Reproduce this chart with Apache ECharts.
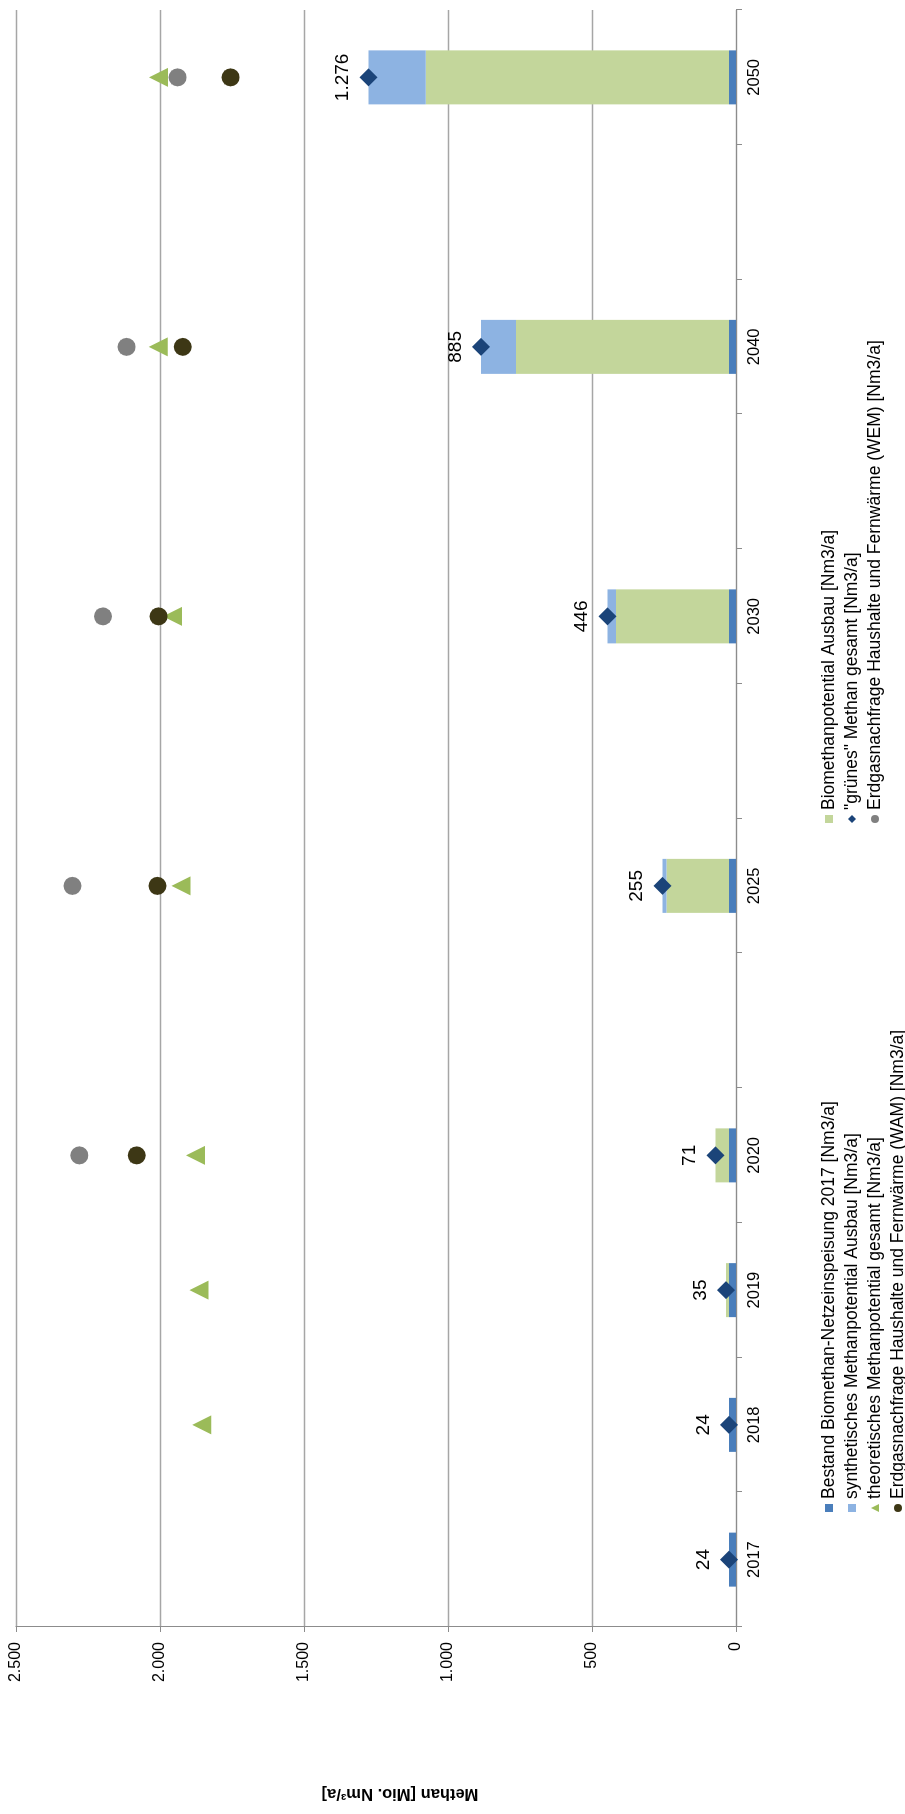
<!DOCTYPE html>
<html>
<head>
<meta charset="utf-8">
<script src="https://cdn.jsdelivr.net/npm/echarts@6/dist/echarts.min.js"></script>
<style>
  html, body { margin: 0; padding: 0; background: #fff; overflow: hidden; }
  #page { position: absolute; left: 0; top: 0; width: 905px; height: 1814px; overflow: hidden; background: #fff; }
  /* chart is laid out landscape, then turned a quarter turn counter-clockwise */
  #chart { position: absolute; left: 0; top: 1814px; width: 1814px; height: 905px;
           transform-origin: 0 0; transform: rotate(-90deg); }
</style>
</head>
<body>
<div id="page"><div id="chart"></div></div>
<script>
// Years on the category axis (empty slots keep the time spacing)
const years = ['2017', '2018', '2019', '2020', '', '2025', '', '2030', '', '2040', '', '2050'];

// Stacked bars, Mio. Nm³/a
const bestand      = [24, 24, 24, 24, null, 24, null, 24, null, 24, null, 24];
const biomethan    = [0, 0, 11, 47, null, 217, null, 393, null, 740, null, 1053];
const synthetisch  = [0, 0, 0, 0, null, 14, null, 29, null, 121, null, 199];

// Markers
const gruenGesamt  = [24, 24, 35, 71, null, 255, null, 446, null, 885, null, 1276];
const theoretisch  = [null, 1855, 1865, 1877, null, 1927, null, 1957, null, 2006, null, 2005];
const nachfrageWAM = [null, null, null, 2081, null, 2009, null, 2005, null, 1921, null, 1755];
const nachfrageWEM = [null, null, null, 2280, null, 2304, null, 2198, null, 2116, null, 1939];

// Value axis ticks
const valueTicks = [0, 500, 1000, 1500, 2000, 2500];

const names = {
  bestand: 'Bestand Biomethan-Netzeinspeisung 2017 [Nm3/a]',
  synth: 'synthetisches Methanpotential Ausbau [Nm3/a]',
  theo: 'theoretisches Methanpotential gesamt [Nm3/a]',
  wam: 'Erdgasnachfrage Haushalte und Fernwärme (WAM) [Nm3/a]',
  bio: 'Biomethanpotential Ausbau [Nm3/a]',
  gruen: '"grünes" Methan gesamt [Nm3/a]',
  wem: 'Erdgasnachfrage Haushalte und Fernwärme (WEM) [Nm3/a]'
};

const colors = {
  bestand: '#4a7ebb', bio: '#c3d69b', synth: '#8db3e2',
  theo: '#9bbb59', gruen: '#1b4479', wam: '#3d3715', wem: '#808080'
};

const FONT = '"Liberation Sans", Arial, sans-serif';

function deNum(v) {
  return String(v).replace(/\B(?=(\d{3})+(?!\d))/g, '.');
}
function points(arr) {
  const out = [];
  arr.forEach((v, i) => { if (v != null) out.push([i, v]); });
  return out;
}
function bars(arr) {
  return arr.map(v => (v == null ? '-' : v));
}

const chart = echarts.init(document.getElementById('chart'), null, { renderer: 'canvas' });

const legendBase = {
  orient: 'vertical', itemWidth: 8, itemHeight: 8, itemGap: 5,
  height: 110,
  selectedMode: false,
  textStyle: { fontFamily: FONT, fontSize: 17.5, color: '#000', lineHeight: 17 }
};

chart.setOption({
  animation: false,
  backgroundColor: '#fff',
  textStyle: { fontFamily: FONT },
  grid: { left: 187, right: 10, top: 16, bottom: 169, containLabel: false },
  legend: [
    Object.assign({}, legendBase, {
      left: 297, top: 815,
      data: [
        { name: names.bestand, icon: 'rect' },
        { name: names.synth, icon: 'rect' },
        { name: names.theo, icon: 'triangle' },
        { name: names.wam, icon: 'circle' }
      ]
    }),
    Object.assign({}, legendBase, {
      left: 986, top: 815,
      data: [
        { name: names.bio, icon: 'rect' },
        { name: names.gruen, icon: 'diamond' },
        { name: names.wem, icon: 'circle' }
      ]
    })
  ],
  xAxis: {
    type: 'category',
    data: years,
    boundaryGap: true,
    axisLine: { lineStyle: { color: '#8c8c8c', width: 1 } },
    axisTick: { show: true, interval: 0, length: 6, lineStyle: { color: '#8c8c8c' } },
    axisLabel: { interval: 0, fontSize: 16.5, color: '#000', margin: 10, fontFamily: FONT },
    splitLine: { show: false }
  },
  yAxis: {
    type: 'value',
    min: valueTicks[0],
    max: valueTicks[valueTicks.length - 1],
    interval: 500,
    name: 'Methan [Mio. Nm³/a]',
    nameLocation: 'middle',
    nameRotate: 90,
    nameGap: 158,
    nameTextStyle: { fontFamily: FONT, fontSize: 16.5, fontWeight: 'bold', color: '#000', padding: [0, 48, 0, 0] },
    axisLine: { show: true, lineStyle: { color: '#8c8c8c', width: 1 } },
    axisTick: { show: true, length: 5, lineStyle: { color: '#8c8c8c' } },
    axisLabel: { fontSize: 16, color: '#000', margin: 15, fontFamily: FONT, formatter: v => deNum(v) },
    splitLine: { show: true, lineStyle: { color: '#a6a6a6', width: 1.3 } }
  },
  series: [
    { name: names.bestand, type: 'bar', stack: 'm', barWidth: 54, data: bars(bestand),
      itemStyle: { color: colors.bestand } },
    { name: names.bio, type: 'bar', stack: 'm', barWidth: 54, data: bars(biomethan),
      itemStyle: { color: colors.bio } },
    { name: names.synth, type: 'bar', stack: 'm', barWidth: 54, data: bars(synthetisch),
      itemStyle: { color: colors.synth } },
    { name: names.theo, type: 'scatter', symbol: 'triangle', symbolSize: 19,
      data: points(theoretisch), itemStyle: { color: colors.theo, opacity: 1 } },
    { name: names.wem, type: 'scatter', symbol: 'circle', symbolSize: 18,
      data: points(nachfrageWEM), itemStyle: { color: colors.wem, opacity: 1 } },
    { name: names.wam, type: 'scatter', symbol: 'circle', symbolSize: 18,
      data: points(nachfrageWAM), itemStyle: { color: colors.wam, opacity: 1 } },
    { name: names.gruen, type: 'scatter', symbol: 'diamond', symbolSize: 18, z: 5,
      data: points(gruenGesamt), itemStyle: { color: colors.gruen, opacity: 1 },
      label: { show: true, position: 'top', distance: 7, fontSize: 19, color: '#000', fontFamily: FONT,
               formatter: p => deNum(p.value[1]) } }
  ]
});
</script>
</body>
</html>
